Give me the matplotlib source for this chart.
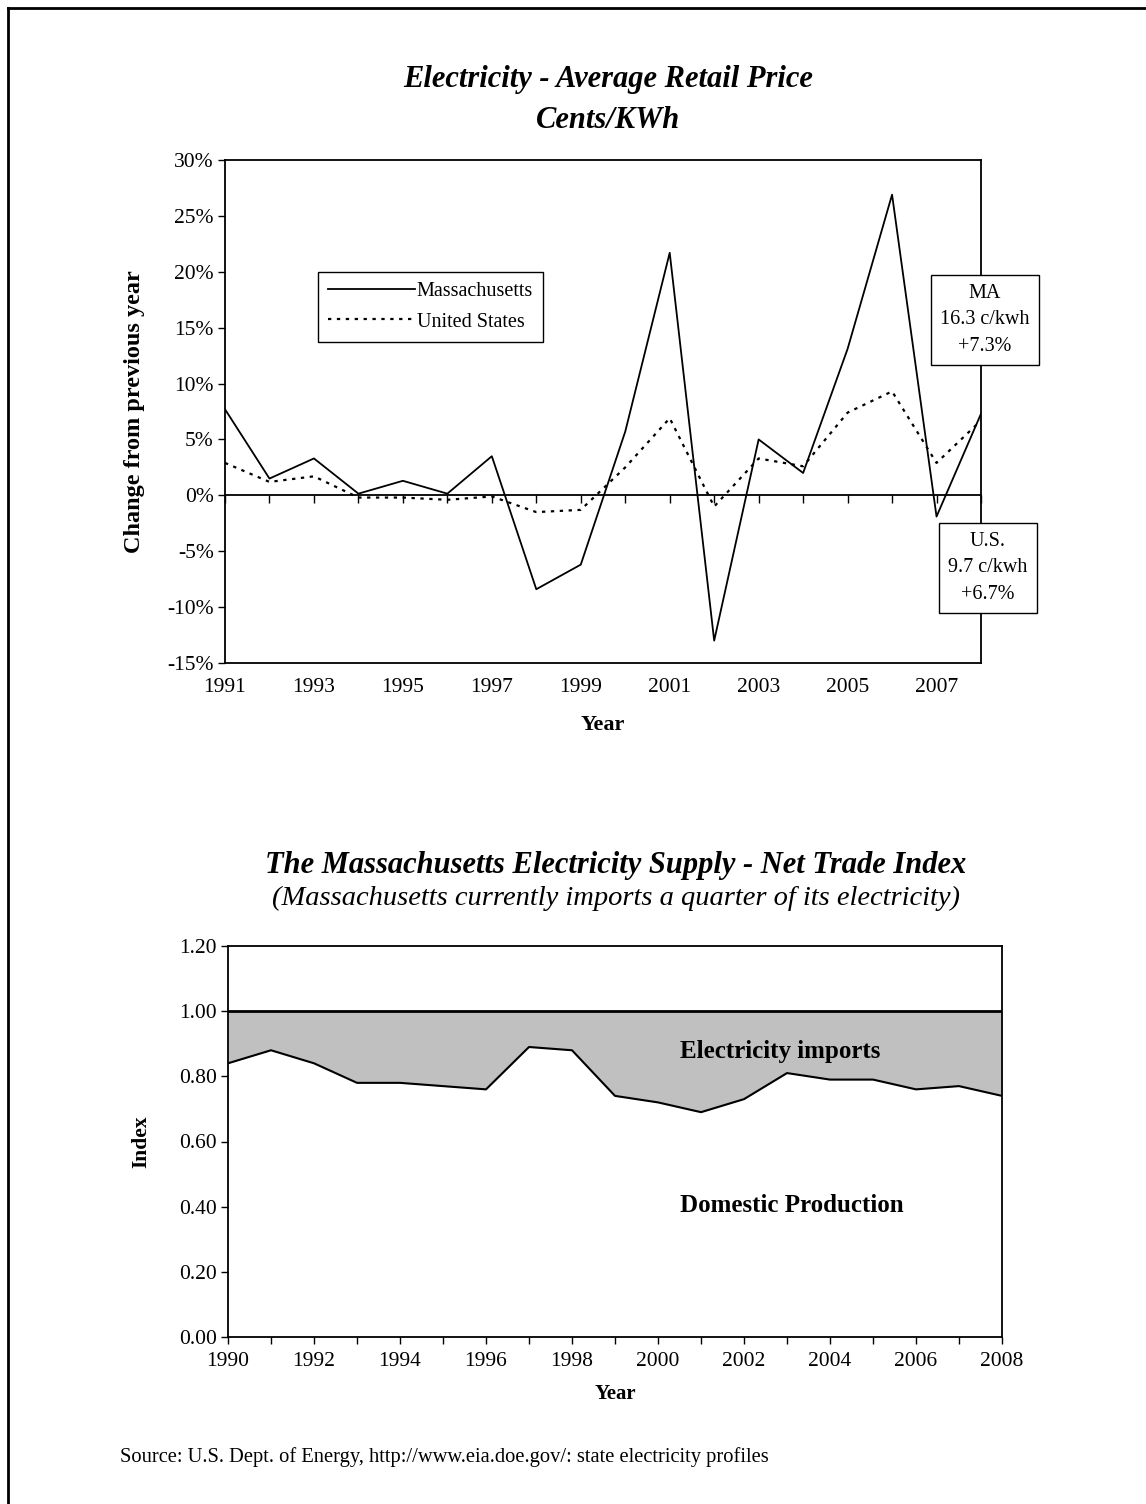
import matplotlib
matplotlib.use("Agg")
import matplotlib.pyplot as plt
from matplotlib.lines import Line2D
from matplotlib.ticker import MultipleLocator, FuncFormatter

plt.rcParams['font.family'] = ['Liberation Serif', 'DejaVu Serif']

# Electricity price, % change from previous year
price_years = list(range(1991, 2009))
ma_change = [7.7, 1.5, 3.3, 0.15, 1.3, 0.15, 3.5, -8.4, -6.2, 5.7,
             21.7, -13.0, 5.0, 2.0, 13.1, 26.9, -1.9, 7.3]
us_change = [2.9, 1.2, 1.7, -0.2, -0.2, -0.4, -0.1, -1.5, -1.3, 2.5,
             6.9, -1.0, 3.3, 2.6, 7.4, 9.3, 2.9, 6.7]

# Net trade index
trade_years = list(range(1990, 2009))
domestic_index = [0.84, 0.88, 0.84, 0.78, 0.78, 0.77, 0.76, 0.89, 0.88, 0.74,
                  0.72, 0.69, 0.73, 0.81, 0.79, 0.79, 0.76, 0.77, 0.74]
total_index = 1.0

W, H = 1146, 1504


def frac_box(left, top, right, bottom):
    """ pixel box -> figure fraction [l, b, w, h] """
    return [left / W, 1 - bottom / H, (right - left) / W, (bottom - top) / H]


fig = plt.figure(figsize=(W / 100, H / 100), dpi=100)

# outer frame (only left and top visible)
fig.add_artist(Line2D([8 / W, 8 / W], [0, 1 - 8 / H], color='black', lw=2,
                      transform=fig.transFigure))
fig.add_artist(Line2D([8 / W, 1], [1 - 8 / H, 1 - 8 / H], color='black', lw=2,
                      transform=fig.transFigure))

# ---------------- top chart ----------------
ax1 = fig.add_axes(frac_box(225, 160, 981, 663))
ax1.plot(price_years, ma_change, color='black', lw=1.3, label='Massachusetts')
ax1.plot(price_years, us_change, color='black', lw=1.6,
         linestyle=(0, (1.5, 2.5)), label='United States')
ax1.set_xlim(1991, 2008)
ax1.set_ylim(-15, 30)
ax1.yaxis.set_major_locator(MultipleLocator(5))
ax1.yaxis.set_major_formatter(FuncFormatter(lambda v, p: '{:.0f}%'.format(v)))
ax1.set_xticks(range(1991, 2009, 2))
ax1.tick_params(axis='x', length=0, pad=11, labelsize=15.5)
ax1.tick_params(axis='y', direction='out', length=5, width=1, pad=3,
                labelsize=15.5)
for s in ax1.spines.values():
    s.set_linewidth(1.3)

# zero line with yearly ticks
ymin, ymax = ax1.get_ylim()
zero_ax = ax1.secondary_xaxis((0 - ymin) / (ymax - ymin))
zero_ax.set_xticks(price_years)
zero_ax.tick_params(direction='out', length=6, width=1, labelbottom=False)
zero_ax.spines['bottom'].set_linewidth(1.3)

ax1.set_xlabel('Year', fontsize=16, fontweight='bold', labelpad=13)
ax1.set_ylabel('Change from previous year', fontsize=17.5, fontweight='bold',
               labelpad=16)
leg = ax1.legend(loc='upper left', bbox_to_anchor=(0.123, 0.777),
                 borderaxespad=0, fancybox=False, edgecolor='black',
                 framealpha=1, fontsize=14.5, handlelength=4.3,
                 handletextpad=0.1, labelspacing=0.55, borderpad=0.5)
leg.get_frame().set_linewidth(1)

fig.text(608 / W, 1 - 80 / H, 'Electricity - Average Retail Price',
         ha='center', va='center', fontsize=22, fontweight='bold',
         style='italic')
fig.text(608 / W, 1 - 120 / H, 'Cents/KWh', ha='center', va='center',
         fontsize=22, fontweight='bold', style='italic')

box = dict(boxstyle='square,pad=0.45', fc='white', ec='black', lw=1)
fig.text(985 / W, 1 - 320 / H, 'MA\n16.3 c/kwh\n+7.3%', ha='center',
         va='center', fontsize=14.5, linespacing=1.55, bbox=box)
fig.text(988 / W, 1 - 568 / H, 'U.S.\n9.7 c/kwh\n+6.7%', ha='center',
         va='center', fontsize=14.5, linespacing=1.55, bbox=box)

# ---------------- bottom chart ----------------
ax2 = fig.add_axes(frac_box(228, 946, 1002, 1337))
ax2.fill_between(trade_years, domestic_index, total_index, color='#c0c0c0',
                 lw=0)
ax2.plot(trade_years, domestic_index, color='black', lw=1.5)
ax2.axhline(total_index, color='black', lw=2)
ax2.set_xlim(1990, 2008)
ax2.set_ylim(0, 1.2)
ax2.yaxis.set_major_locator(MultipleLocator(0.2))
ax2.yaxis.set_major_formatter(FuncFormatter(lambda v, p: '{:.2f}'.format(v)))
ax2.set_xticks(range(1990, 2009, 2))
ax2.set_xticks(trade_years, minor=True)
ax2.tick_params(axis='both', which='both', direction='out', length=5, width=1,
                labelsize=15.5)
ax2.tick_params(axis='y', pad=3)
ax2.tick_params(axis='x', pad=6)
for s in ax2.spines.values():
    s.set_linewidth(1.3)
ax2.set_xlabel('Year', fontsize=15, fontweight='bold', labelpad=9)
ax2.set_ylabel('Index', fontsize=15.5, fontweight='bold', labelpad=20)

ax2.text(2000.5, 0.875, 'Electricity imports', ha='left', va='center',
         fontsize=18, fontweight='bold')
ax2.text(2000.5, 0.405, 'Domestic Production', ha='left', va='center',
         fontsize=18, fontweight='bold')

fig.text(616 / W, 1 - 866 / H,
         'The Massachusetts Electricity Supply - Net Trade Index',
         ha='center', va='center', fontsize=22, fontweight='bold',
         style='italic')
fig.text(616 / W, 1 - 898 / H,
         '(Massachusetts currently imports a quarter of its electricity)',
         ha='center', va='center', fontsize=20.5, style='italic')

fig.text(120 / W, 1 - 1457 / H,
         'Source: U.S. Dept. of Energy, http://www.eia.doe.gov/: '
         'state electricity profiles', ha='left', va='center', fontsize=14.8)

fig.savefig('out.png', dpi=100)
